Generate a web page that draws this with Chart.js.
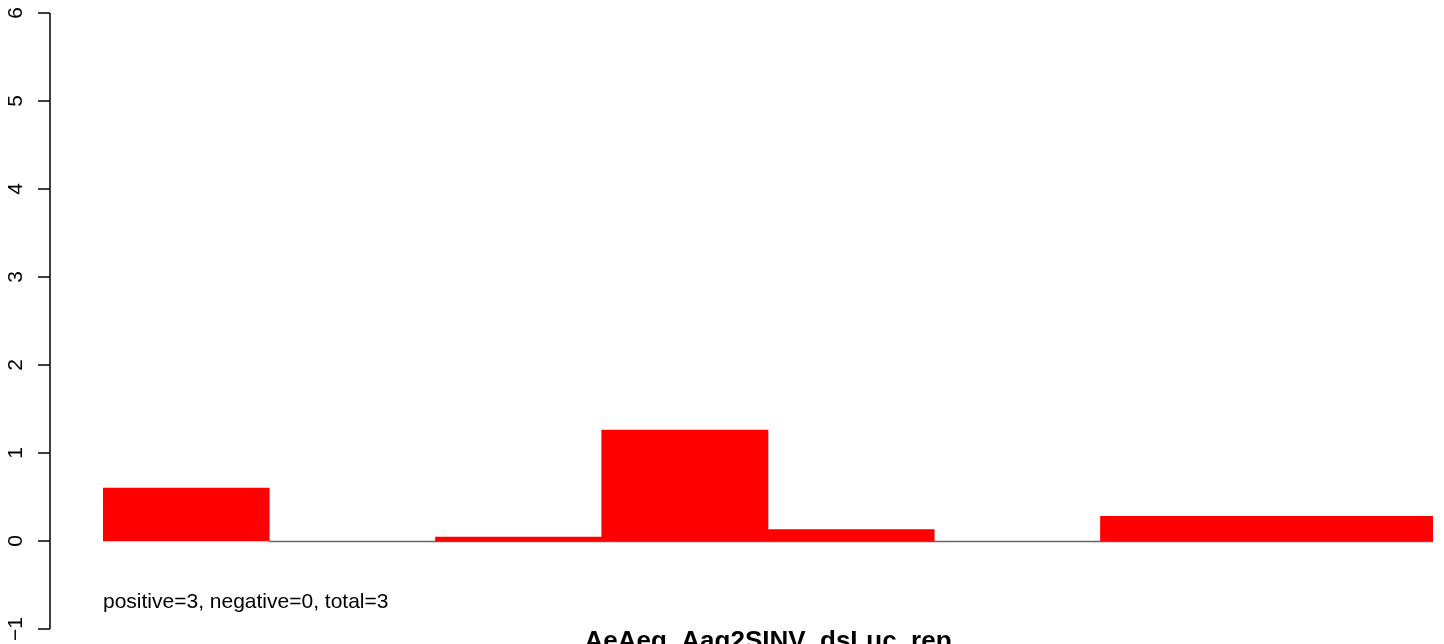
<!DOCTYPE html>
<html>
<head>
<meta charset="utf-8">
<script src="https://cdn.jsdelivr.net/npm/chart.js@4"></script>
<style>
    html, body { margin: 0; padding: 0; background: #ffffff; }
    #wrap { width: 1444px; height: 644px; }
</style>
</head>
<body>
<div id="wrap"><canvas id="barChart" width="1444" height="644"></canvas></div>
<script>
// Chart data
const categories = ['1', '2', '3', '4', '5', '6', '7', '8'];
const values = [0.60, 0, 0.045, 1.26, 0.13, 0, 0.28, 0.28];
const yTicks = [-1, 0, 1, 2, 3, 4, 5, 6];
const titleText = 'AeAeg_Aag2SINV_dsLuc_rep';
const noteText = 'positive=3, negative=0, total=3';

const FONT = '"Liberation Sans", Arial, Helvetica, sans-serif';

// R style axis, baseline and texts drawn by hand
const rStyle = {
    id: 'rStyle',
    beforeDatasetsDraw(chart) {
        const ctx = chart.ctx;
        const x = chart.scales.x;
        const y = chart.scales.y;
        const step = (x.right - x.left) / categories.length;
        const y0 = Math.round(y.getPixelForValue(0)) + 0.5;
        ctx.save();
        ctx.strokeStyle = '#666666';
        ctx.lineWidth = 1.5;
        ctx.beginPath();
        ctx.moveTo(x.left + step, y0);
        ctx.lineTo(x.right, y0);
        ctx.stroke();
        ctx.restore();
    },
    afterDraw(chart) {
        const ctx = chart.ctx;
        const x = chart.scales.x;
        const y = chart.scales.y;
        const axisX = 50;
        ctx.save();
        ctx.strokeStyle = '#000000';
        ctx.lineWidth = 1.5;
        ctx.beginPath();
        ctx.moveTo(axisX, y.getPixelForValue(yTicks[0]));
        ctx.lineTo(axisX, y.getPixelForValue(yTicks[yTicks.length - 1]));
        yTicks.forEach(t => {
            const py = y.getPixelForValue(t);
            ctx.moveTo(axisX, py);
            ctx.lineTo(axisX - 12, py);
        });
        ctx.stroke();

        // rotated tick labels
        ctx.fillStyle = '#000000';
        ctx.font = '21px ' + FONT;
        ctx.textAlign = 'center';
        ctx.textBaseline = 'alphabetic';
        yTicks.forEach(t => {
            const py = y.getPixelForValue(t);
            ctx.save();
            ctx.translate(22, py);
            ctx.rotate(-Math.PI / 2);
            ctx.fillText(t < 0 ? '\u2212' + Math.abs(t) : String(t), 0, 0);
            ctx.restore();
        });

        // note text
        ctx.textAlign = 'left';
        ctx.font = '21px ' + FONT;
        ctx.fillText(noteText, x.left, 608);

        // title at the bottom
        ctx.textAlign = 'center';
        ctx.font = 'bold 26px ' + FONT;
        ctx.fillText(titleText, (x.left + x.right) / 2, 649);
        ctx.restore();
    }
};

function initChart() {
    const ctx = document.getElementById('barChart').getContext('2d');
    new Chart(ctx, {
        type: 'bar',
        data: {
            labels: categories,
            datasets: [{
                data: values,
                // zero bars left empty so only the grey baseline shows
                backgroundColor: c => (c.raw === 0 ? 'rgba(0,0,0,0)' : '#ff0000'),
                borderWidth: 0,
                categoryPercentage: 1.0,
                barPercentage: 1.0
            }]
        },
        options: {
            responsive: false,
            animation: false,
            layout: {
                padding: { left: 103, right: 11, top: 13, bottom: 15 }
            },
            scales: {
                x: { display: false },
                y: { display: false, min: -1, max: 6 }
            },
            plugins: {
                legend: { display: false },
                tooltip: { enabled: false }
            }
        },
        plugins: [rStyle]
    });
}

document.addEventListener('DOMContentLoaded', initChart);
</script>
</body>
</html>
